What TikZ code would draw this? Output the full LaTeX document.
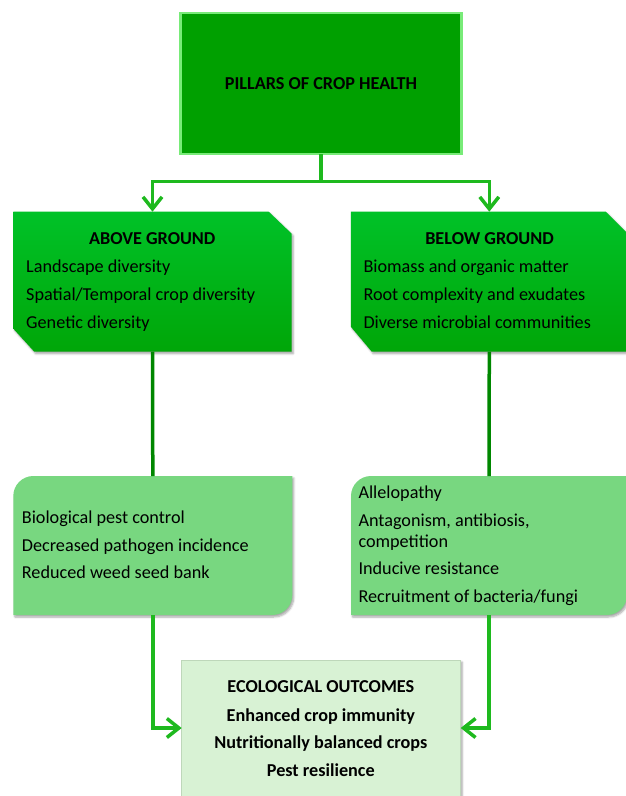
\documentclass[tikz,border=0pt]{standalone}
\usepackage{fontspec}
\setmainfont{Carlito}
\usetikzlibrary{arrows.meta,shadows.blur}
\definecolor{topgreen}{RGB}{0,160,0}
\definecolor{glow}{RGB}{120,235,120}
\definecolor{gtop}{RGB}{0,194,40}
\definecolor{gbot}{RGB}{0,166,8}
\definecolor{midgreen}{RGB}{120,215,128}
\definecolor{outfill}{RGB}{216,242,212}
\definecolor{outline}{RGB}{190,215,186}
\definecolor{linebright}{RGB}{30,185,30}
\definecolor{linedark}{RGB}{0,135,0}
\tikzset{
  shapebox/.style={inner sep=0pt, outer sep=0pt},
  txt/.style={inner sep=0pt, font=\fontsize{18.2}{21}\selectfont},
  btxt/.style={inner sep=0pt, font=\fontsize{18.2}{21}\selectfont\bfseries},
  conn/.style={draw=linebright, line width=3.5pt},
  darkconn/.style={draw=linedark, line width=3.5pt},
  arr/.style={-{Straight Barb[length=12pt,width=19pt]}},
  softshadow/.style={blur shadow={shadow xshift=1.5pt, shadow yshift=-2pt, shadow blur steps=6, shadow opacity=35}}
}
\begin{document}
\begin{tikzpicture}[x=1pt,y=-1pt]
\useasboundingbox (0,0) rectangle (626,796);
\clip (0,0) rectangle (626,796);

% ---- shape nodes
\node[shapebox, minimum width=281pt, minimum height=141pt] (top) at (321,83.5) {};
\node[shapebox, minimum width=278.4pt, minimum height=140pt] (AG) at (152.5,281.7) {};
\node[shapebox, minimum width=277pt, minimum height=140pt] (BG) at (489.3,281.7) {};
\node[shapebox, minimum width=279pt, minimum height=139pt] (ML) at (152.8,545.5) {};
\node[shapebox, minimum width=276pt, minimum height=139pt] (MR) at (489,545.5) {};
\node[shapebox, minimum width=279pt, minimum height=136pt] (EO) at (321.2,728) {};

% ---- top box
\path[fill=topgreen, draw=glow, line width=2.2pt] (top.north west) rectangle (top.south east);

% ---- ground boxes (chamfered)
\path[softshadow, top color=gtop, bottom color=gbot]
  (AG.north west) -- ([xshift=-23pt]AG.north east) -- ([yshift=-22pt]AG.north east)
  -- (AG.south east) -- ([xshift=21pt]AG.south west) -- ([yshift=23pt]AG.south west) -- cycle;
\path[softshadow, top color=gtop, bottom color=gbot]
  (BG.north west) -- ([xshift=-22pt]BG.north east) -- ([yshift=-22pt]BG.north east)
  -- (BG.south east) -- ([xshift=21pt]BG.south west) -- ([yshift=25pt]BG.south west) -- cycle;

% ---- middle boxes (two rounded corners)
\path[softshadow, fill=midgreen]
  (ML.south west) -- ([yshift=-20pt]ML.north west) arc (180:90:20pt)
  -- (ML.north east) -- ([yshift=20pt]ML.south east) arc (0:-90:20pt) -- cycle;
\path[softshadow, fill=midgreen]
  (MR.south west) -- ([yshift=-20pt]MR.north west) arc (180:90:20pt)
  -- (MR.north east) -- ([yshift=20pt]MR.south east) arc (0:-90:20pt) -- cycle;

% ---- outcome box
\path[softshadow, fill=outfill, draw=outline, line width=0.6pt] (EO.north west) rectangle (EO.south east);

% ---- connectors
\coordinate (split) at (321,181.7);
\draw[conn] (top.south) -- (split);
\draw[conn, arr] (split) -| (AG.north);
\draw[conn, arr] (split) -| (BG.north);
\draw[darkconn] (AG.south) -- (ML.north);
\draw[darkconn] (BG.south) -- (MR.north);
\draw[conn, arr] (ML.south) |- (EO.west);
\draw[conn, arr] (MR.south) |- (EO.east);

% ---- texts
\node[btxt, anchor=base] (t0) at (321,89.3) {PILLARS OF CROP HEALTH};

\node[btxt, anchor=base] (a0) at (152.3,244.5) {ABOVE GROUND};
\node[txt, anchor=base west] (a1) at (26,272.7) {Landscape diversity};
\node[txt, anchor=base west] (a2) at (26,300.7) {Spatial/Temporal crop diversity};
\node[txt, anchor=base west] (a3) at (26,328.5) {Genetic diversity};

\node[btxt, anchor=base] (b0) at (489.5,244.5) {BELOW GROUND};
\node[txt, anchor=base west] (b1) at (363.3,272.7) {Biomass and organic matter};
\node[txt, anchor=base west] (b2) at (363.3,300.7) {Root complexity and exudates};
\node[txt, anchor=base west] (b3) at (363.3,328.5) {Diverse microbial communities};

\node[txt, anchor=base west] (c1) at (21.7,523.3) {Biological pest control};
\node[txt, anchor=base west] (c2) at (21.7,551) {Decreased pathogen incidence};
\node[txt, anchor=base west] (c3) at (21.7,578.3) {Reduced weed seed bank};

\node[txt, anchor=base west] (d1) at (358.3,498.3) {Allelopathy};
\node[txt, anchor=base west] (d2) at (358.3,526.7) {Antagonism, antibiosis,};
\node[txt, anchor=base west] (d3) at (358.3,547.3) {competition};
\node[txt, anchor=base west] (d4) at (358.3,574.3) {Inducive resistance};
\node[txt, anchor=base west] (d5) at (358.3,602.3) {Recruitment of bacteria/fungi};

\node[btxt, anchor=base] (e0) at (320.8,692.3) {ECOLOGICAL OUTCOMES};
\node[btxt, anchor=base] (e1) at (320.8,721) {Enhanced crop immunity};
\node[btxt, anchor=base] (e2) at (320.8,748.3) {Nutritionally balanced crops};
\node[btxt, anchor=base] (e3) at (320.8,776.7) {Pest resilience};
\end{tikzpicture}
\end{document}
